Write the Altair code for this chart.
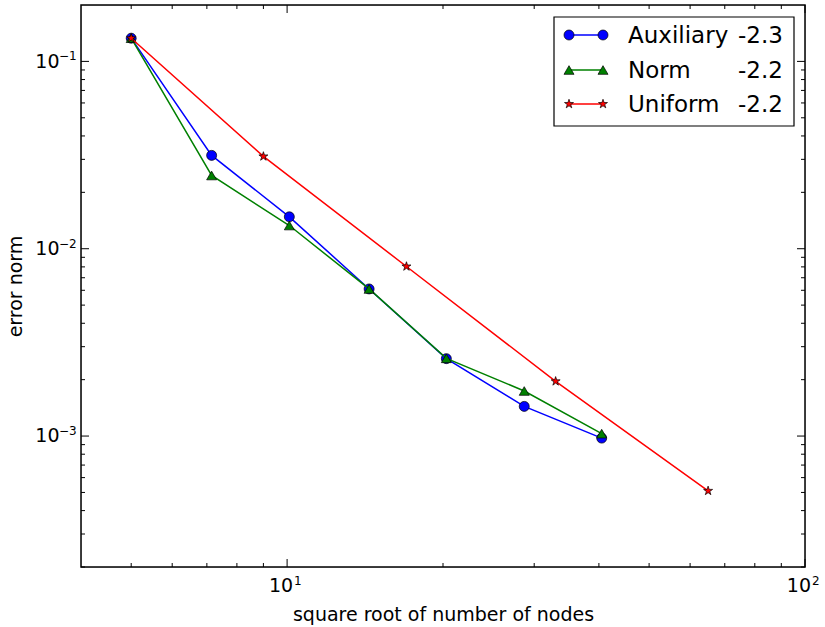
import altair as alt
import pandas as pd

# ---- data ----
x_aux = [5.0, 7.15, 10.1, 14.4, 20.3, 28.7, 40.5]
y_aux = [0.133, 0.0315, 0.0148, 0.0061, 0.00259, 0.00144, 0.000975]
x_norm = [5.0, 7.15, 10.1, 14.4, 20.3, 28.7, 40.5]
y_norm = [0.133, 0.0246, 0.0133, 0.0061, 0.0026, 0.00174, 0.00103]
x_uni = [5.0, 9.0, 17.0, 33.0, 65.0]
y_uni = [0.133, 0.0311, 0.00804, 0.00196, 0.00051]

names = ["Auxiliary", "Norm", "Uniform"]
slopes = ["-2.3", "-2.2", "-2.2"]

x_major = [10, 100]
x_base = ["10", "10"]
x_exp = ["1", "2"]
x_minor = [5, 6, 7, 8, 9, 20, 30, 40, 50, 60, 70, 80, 90]
y_major = [0.001, 0.01, 0.1]
y_base = ["10", "10", "10"]
y_exp = ["\u22123", "\u22122", "\u22121"]
y_minor = [0.0002, 0.0003, 0.0004, 0.0005, 0.0006, 0.0007, 0.0008, 0.0009,
           0.002, 0.003, 0.004, 0.005, 0.006, 0.007, 0.008, 0.009,
           0.02, 0.03, 0.04, 0.05, 0.06, 0.07, 0.08, 0.09]

# ---- styles ----
STAR = ("M0,-1L0.225,-0.309L0.951,-0.309L0.363,0.118L0.588,0.809L0,0.382"
        "L-0.588,0.809L-0.363,0.118L-0.951,-0.309L-0.225,-0.309Z")
colors = ["#0000ff", "#008000", "#ff0000"]
shapes = ["circle", "triangle-up", STAR]
msizes = [100, 100, 90]

W, H = 724, 562
FONT = "DejaVu Sans"
BASE_FS = 19
SUP_FS = 12

xs = alt.Scale(type="log", domain=[4, 100], nice=False)
ys = alt.Scale(type="log", domain=[0.0002, 0.2], nice=False)

xaxis = alt.Axis(values=x_major, labels=False,
                 ticks=False, tickSize=0, domain=False, grid=False,
                 title="square root of number of nodes", titleFontSize=BASE_FS,
                 titleFontWeight="normal", titleColor="black", titleFont=FONT,
                 titleX=W / 2, titleY=53, titleBaseline="alphabetic",
                 titleAlign="center")
yaxis = alt.Axis(values=y_major, labels=False,
                 ticks=False, tickSize=0, domain=False, grid=False,
                 title="error norm", titleFontSize=BASE_FS,
                 titleFontWeight="normal", titleColor="black", titleFont=FONT,
                 titleX=-60, titleY=H / 2, titleAngle=270,
                 titleBaseline="alphabetic", titleAlign="center")

series = [(x_aux, y_aux), (x_norm, y_norm), (x_uni, y_uni)]
layers = []

# axes carrier (invisible)
carrier = alt.Chart(pd.DataFrame({"x": x_aux, "y": y_aux})).mark_point(opacity=0).encode(
    x=alt.X("x:Q", scale=xs, axis=xaxis),
    y=alt.Y("y:Q", scale=ys, axis=yaxis),
)
layers.append(carrier)

# inward ticks on all four sides
def xticks(vals, ln):
    d = pd.DataFrame({"x": vals})
    bottom = alt.Chart(d).mark_rule(color="black", strokeWidth=1).encode(
        x=alt.X("x:Q", scale=xs), y=alt.value(H), y2=alt.value(H - ln))
    top = alt.Chart(d).mark_rule(color="black", strokeWidth=1).encode(
        x=alt.X("x:Q", scale=xs), y=alt.value(0), y2=alt.value(ln))
    return [bottom, top]

def yticks(vals, ln):
    d = pd.DataFrame({"y": vals})
    left = alt.Chart(d).mark_rule(color="black", strokeWidth=1).encode(
        y=alt.Y("y:Q", scale=ys), x=alt.value(0), x2=alt.value(ln))
    right = alt.Chart(d).mark_rule(color="black", strokeWidth=1).encode(
        y=alt.Y("y:Q", scale=ys), x=alt.value(W), x2=alt.value(W - ln))
    return [left, right]

layers += xticks(x_major, 8) + xticks(x_minor, 4) + yticks(y_major, 8) + yticks(y_minor, 4)

# tick labels as base + superscript
xl = pd.DataFrame({"x": x_major, "b": x_base, "e": x_exp})
layers.append(alt.Chart(xl).mark_text(align="right", baseline="alphabetic", fontSize=BASE_FS,
                                      font=FONT, color="black", dx=6).encode(
    x=alt.X("x:Q", scale=xs), y=alt.value(H + 24.7), text="b:N"))
layers.append(alt.Chart(xl).mark_text(align="left", baseline="alphabetic", fontSize=SUP_FS,
                                      font=FONT, color="black", dx=7).encode(
    x=alt.X("x:Q", scale=xs), y=alt.value(H + 17.5), text="e:N"))
yl = pd.DataFrame({"y": y_major, "b": y_base, "e": y_exp})
layers.append(alt.Chart(yl).mark_text(align="right", baseline="alphabetic", fontSize=BASE_FS,
                                      font=FONT, color="black", dy=6.3).encode(
    y=alt.Y("y:Q", scale=ys), x=alt.value(-21.5), text="b:N"))
layers.append(alt.Chart(yl).mark_text(align="left", baseline="alphabetic", fontSize=SUP_FS,
                                      font=FONT, color="black", dy=-1).encode(
    y=alt.Y("y:Q", scale=ys), x=alt.value(-22), text="e:N"))

# data series
for (xv, yv), name, col, shp, ms in zip(series, names, colors, shapes, msizes):
    d = pd.DataFrame({"x": xv, "y": yv, "series": name})
    line = alt.Chart(d).mark_line(color=col, strokeWidth=1.5).encode(
        x=alt.X("x:Q", scale=xs), y=alt.Y("y:Q", scale=ys))
    pts = alt.Chart(d).mark_point(shape=shp, size=ms, filled=True, fill=col,
                                  stroke="black", strokeWidth=0.7, opacity=1).encode(
        x=alt.X("x:Q", scale=xs), y=alt.Y("y:Q", scale=ys))
    layers += [line, pts]

# plot frame
frame_df = pd.DataFrame({"k": [0]})
layers.append(alt.Chart(frame_df).mark_rect(fillOpacity=0, stroke="black", strokeWidth=1.5).encode(
    x=alt.value(0), x2=alt.value(W), y=alt.value(0), y2=alt.value(H)))

# legend box
LX0, LX1, LY0, LY1 = 473, 713, 12, 121
layers.append(alt.Chart(frame_df).mark_rect(fill="white", stroke="black", strokeWidth=1.2).encode(
    x=alt.value(LX0), x2=alt.value(LX1), y=alt.value(LY0), y2=alt.value(LY1)))

row_y = [30, 65, 99]
for i, (name, slope, col, shp, ms) in enumerate(zip(names, slopes, colors, shapes, msizes)):
    ld = pd.DataFrame({"label": [name], "slope": [slope]})
    ry = row_y[i]
    layers.append(alt.Chart(ld).mark_rule(color=col, strokeWidth=1.5).encode(
        x=alt.value(488), x2=alt.value(522), y=alt.value(ry)))
    for px in (488, 522):
        layers.append(alt.Chart(ld).mark_point(shape=shp, size=ms, filled=True, fill=col,
                                               stroke="black", strokeWidth=0.7, opacity=1).encode(
            x=alt.value(px), y=alt.value(ry)))
    layers.append(alt.Chart(ld).mark_text(align="left", baseline="alphabetic", fontSize=23,
                                          font=FONT, color="black").encode(
        x=alt.value(547), y=alt.value(ry + 8.3), text="label:N"))
    layers.append(alt.Chart(ld).mark_text(align="left", baseline="alphabetic", fontSize=23,
                                          font=FONT, color="black").encode(
        x=alt.value(657), y=alt.value(ry + 8.3), text="slope:N"))

chart = alt.layer(*layers).properties(
    width=W, height=H,
    autosize=alt.AutoSizeParams(type="none"),
    padding={"left": 81, "top": 5, "right": 20, "bottom": 60},
    background="white",
).configure_view(strokeWidth=0).configure(font=FONT)

chart.save("out.html", embed_options={"renderer": "svg", "actions": False})
